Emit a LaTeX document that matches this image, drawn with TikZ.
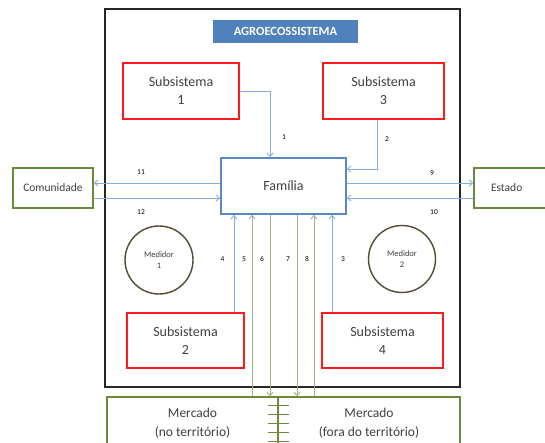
\documentclass[tikz,border=0pt]{standalone}
\usepackage{fontspec}
\setmainfont{Carlito}
\usetikzlibrary{arrows.meta,calc}
\definecolor{boxred}{HTML}{FF1A1A}
\definecolor{famblue}{HTML}{5B87C5}
\definecolor{lineblue}{HTML}{85AEE0}
\definecolor{titleblue}{HTML}{4F81BD}
\definecolor{boxgreen}{HTML}{6A8A3A}
\definecolor{linegreen}{HTML}{A3B08A}
\definecolor{circ}{HTML}{524C32}
\definecolor{txt}{HTML}{404040}
\begin{document}
\begin{tikzpicture}[x=1pt,y=-1pt,
  subbox/.style={draw=boxred,line width=1.6pt,fill=white,minimum width=#1,minimum height=56pt,inner sep=0pt,align=center,font=\fontsize{14}{18}\selectfont,text=txt},
  extbox/.style={draw=boxgreen,line width=1.4pt,fill=white,minimum height=40pt,inner sep=0pt,font=\fontsize{11.5}{13}\selectfont,text=txt},
  medcirc/.style={circle,draw=circ,line width=1.4pt,minimum size=#1,inner sep=0pt,align=center,font=\fontsize{8.5}{11}\selectfont,text=txt},
  barrow/.style={draw=lineblue,line width=0.9pt,-{Straight Barb[length=3.5pt,width=6pt]}},
  garrow/.style={draw=linegreen,line width=0.9pt,-{Straight Barb[length=3.5pt,width=6pt]}},
  num/.style={font=\fontsize{7.5}{8}\selectfont,text=black,inner sep=0pt},
  mtext/.style={font=\fontsize{13.5}{19}\selectfont,text=txt,align=center,inner sep=0pt}
]
\clip (0,0) rectangle (545,443);
\fill[white] (0,0) rectangle (545,443);
% main system box
\node[draw=black!85,line width=1.5pt,minimum width=355pt,minimum height=378pt,inner sep=0pt] (agro) at (282.5,198) {};
\node[fill=titleblue,minimum width=145pt,minimum height=23pt,inner sep=0pt,text=white,font=\bfseries\fontsize{12.5}{14}\selectfont] (title) at (285.5,31.5) {AGROECOSSISTEMA};
% subsystems
\node[subbox=116pt] (s1) at (181,91) {Subsistema\\1};
\node[subbox=121pt] (s3) at (383.5,91) {Subsistema\\3};
\node[subbox=117pt,minimum height=55pt] (s2) at (185.5,340.5) {Subsistema\\2};
\node[subbox=121pt,minimum height=55pt] (s4) at (382.5,340.5) {Subsistema\\4};
% family
\node[draw=famblue,line width=1.6pt,fill=white,minimum width=125pt,minimum height=56pt,inner sep=0pt,font=\fontsize{14}{15}\selectfont,text=txt] (fam) at (283.5,186) {Família};
% external
\node[extbox,minimum width=80pt] (com) at (53,188) {Comunidade};
\node[extbox,minimum width=76pt,text width=64pt,align=left] (est) at (512,188) {\hspace*{11pt}Estado};
% mediators
\node[medcirc=68pt] (m1) at (159,260) {Medidor\\1};
\node[medcirc=67pt] (m2) at (402,259) {Medidor\\2};
% market
\node[draw=boxgreen,line width=1.4pt,fill=white,minimum width=171pt,minimum height=63pt,inner sep=0pt] (mL) at (192.5,428.5) {};
\node[draw=boxgreen,line width=1.4pt,fill=white,minimum width=182pt,minimum height=63pt,inner sep=0pt] (mR) at (369,428.5) {};
\node[mtext] (mLt) at (192.5,423) {Mercado\\(no território)};
\node[mtext] (mRt) at (369,423) {Mercado\\(fora do território)};
\foreach \yy in {405,414,423,432,441}
  \draw[draw=boxgreen,line width=0.8pt] (268,\yy) -- (289,\yy);
% arrows from subsystems
\draw[barrow] (s1.east) -| ([xshift=-13.5pt]fam.north);
\node[num] (n1) at (284,137) {1};
\draw[barrow] ([xshift=-6.5pt]s3.south) |- ([yshift=17pt]fam.east);
\node[num] (n2) at (387,139) {2};
\draw[barrow] (s2.north -| 234,0) -- (fam.south -| 234,0);
\node[num] (n4) at (222.5,259) {4};
\draw[barrow] (s4.north -| 332,0) -- (fam.south -| 332,0);
\node[num] (n3) at (343,259) {3};
% market flows
\draw[garrow] (mL.north -| 252,0) -- (fam.south -| 252,0);
\node[num] (n5) at (244,259) {5};
\draw[garrow] (fam.south -| 270,0) -- (mL.north -| 270,0);
\node[num] (n6) at (262,259) {6};
\draw[garrow] (fam.south -| 297,0) -- (mR.north -| 297,0);
\node[num] (n7) at (288,259) {7};
\draw[garrow] (mR.north -| 314,0) -- (fam.south -| 314,0);
\node[num] (n8) at (307,259) {8};
% community and state
\draw[barrow] ([yshift=3pt]fam.west) -- ([yshift=3pt]fam.west -| com.east);
\node[num] (n11) at (141,172) {11};
\draw[barrow] ([yshift=-12pt]fam.west -| com.east) -- ([yshift=-12pt]fam.west);
\node[num] (n12) at (141,212) {12};
\draw[barrow] ([yshift=3pt]fam.east) -- ([yshift=3pt]fam.east -| est.west);
\node[num] (n9) at (432,173) {9};
\draw[barrow] ([yshift=-12pt]fam.east -| est.west) -- ([yshift=-12pt]fam.east);
\node[num] (n10) at (434,212) {10};
\end{tikzpicture}
\end{document}
